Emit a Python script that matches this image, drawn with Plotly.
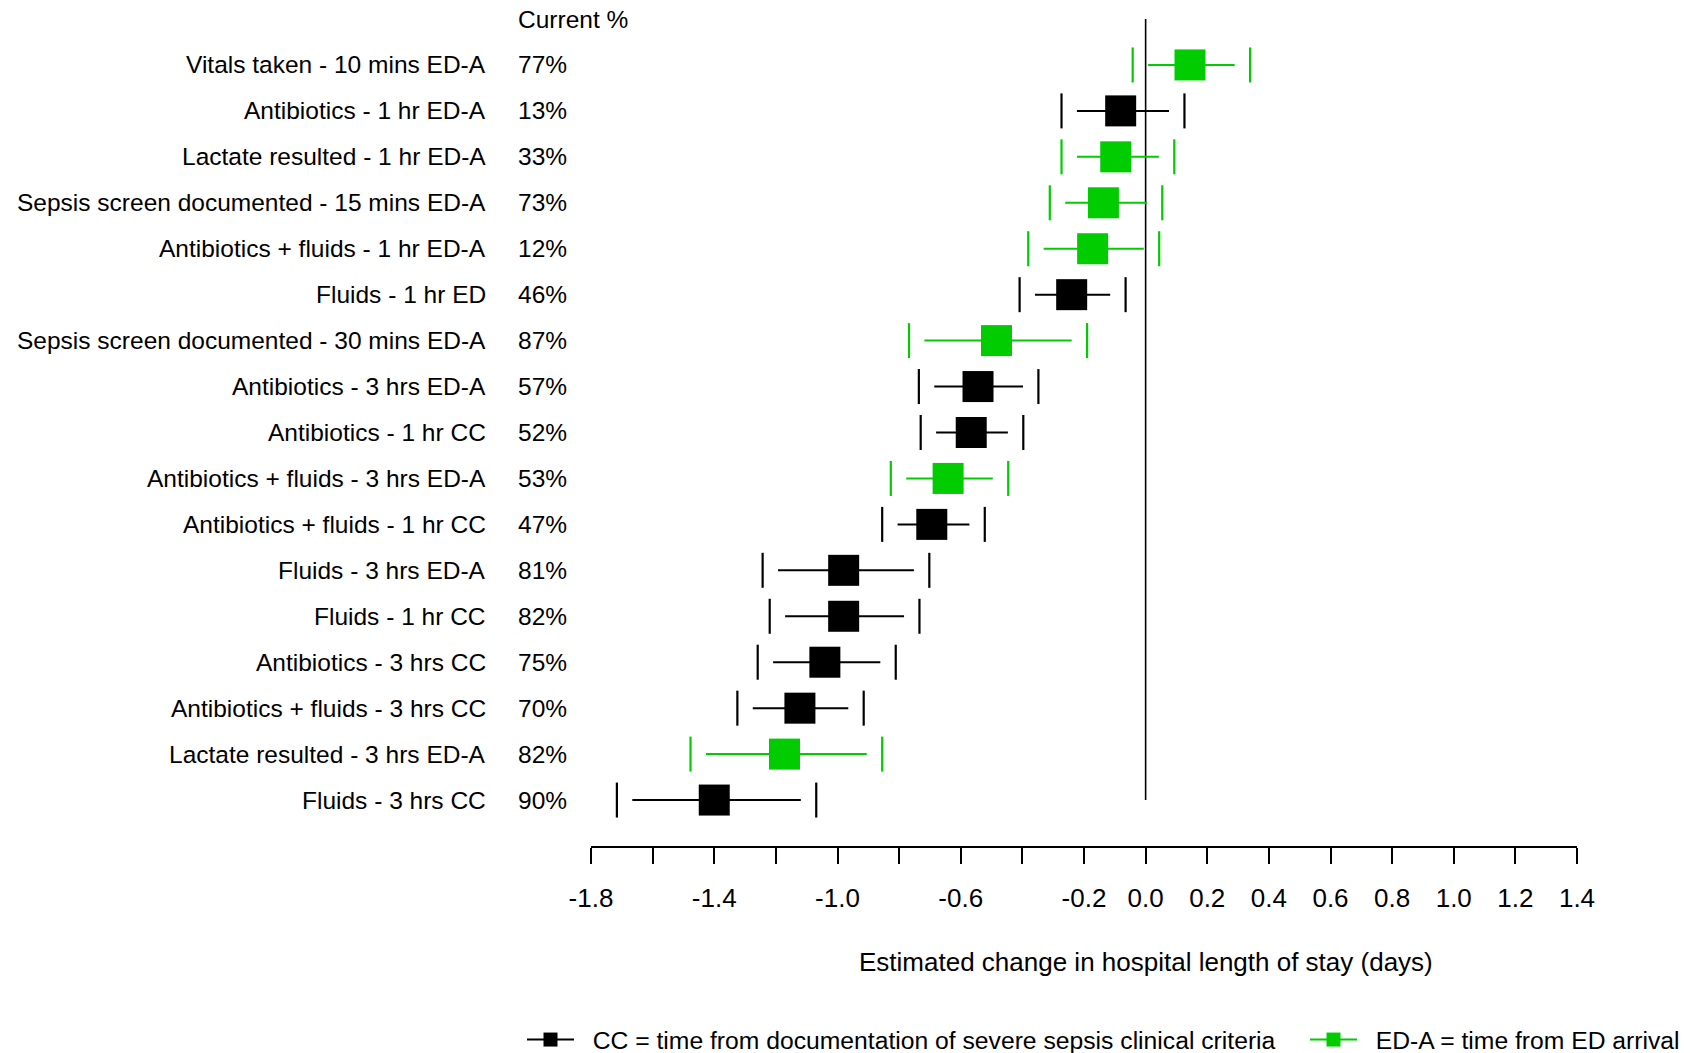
import plotly.graph_objects as go

# ---------------- data ----------------
labels = [
    "Vitals taken - 10 mins ED-A",
    "Antibiotics - 1 hr ED-A",
    "Lactate resulted - 1 hr ED-A",
    "Sepsis screen documented - 15 mins ED-A",
    "Antibiotics + fluids - 1 hr ED-A",
    "Fluids - 1 hr ED",
    "Sepsis screen documented - 30 mins ED-A",
    "Antibiotics - 3 hrs ED-A",
    "Antibiotics - 1 hr CC",
    "Antibiotics + fluids - 3 hrs ED-A",
    "Antibiotics + fluids - 1 hr CC",
    "Fluids - 3 hrs ED-A",
    "Fluids - 1 hr CC",
    "Antibiotics - 3 hrs CC",
    "Antibiotics + fluids - 3 hrs CC",
    "Lactate resulted - 3 hrs ED-A",
    "Fluids - 3 hrs CC",
]
current_pct = ["77%", "13%", "33%", "73%", "12%", "46%", "87%", "57%", "52%",
               "53%", "47%", "81%", "82%", "75%", "70%", "82%", "90%"]
estimate = [0.144, -0.081, -0.097, -0.137, -0.172, -0.240, -0.484, -0.544, -0.566,
            -0.641, -0.694, -0.980, -0.980, -1.041, -1.122, -1.172, -1.400]
ci_low = [-0.042, -0.273, -0.273, -0.311, -0.381, -0.409, -0.768, -0.736, -0.730,
          -0.827, -0.855, -1.243, -1.220, -1.259, -1.325, -1.477, -1.716]
ci_high = [0.339, 0.126, 0.093, 0.054, 0.044, -0.065, -0.190, -0.348, -0.397,
           -0.446, -0.522, -0.702, -0.734, -0.811, -0.915, -0.855, -1.069]
marker_group = ["ED-A", "CC", "ED-A", "ED-A", "ED-A", "CC", "ED-A", "CC", "CC",
                "ED-A", "CC", "CC", "CC", "CC", "CC", "ED-A", "CC"]
tick_values = [-1.8, -1.6, -1.4, -1.2, -1.0, -0.8, -0.6, -0.4, -0.2, 0.0,
               0.2, 0.4, 0.6, 0.8, 1.0, 1.2, 1.4]
tick_labels = ["-1.8", "", "-1.4", "", "-1.0", "", "-0.6", "", "-0.2", "0.0",
               "0.2", "0.4", "0.6", "0.8", "1.0", "1.2", "1.4"]
legend_names = {
    "CC": "CC = time from documentation of severe sepsis clinical criteria",
    "ED-A": "ED-A = time from ED arrival",
}
header = "Current %"
x_title = "Estimated change in hospital length of stay (days)"

# ---------------- style ----------------
COLORS = {"CC": "#000000", "ED-A": "#00CC00"}
CAP_GAP = 0.05
FONT = "Liberation Sans, Arial, sans-serif"
FS_LAB = 24.5
FS_TICK = 26
FS_TITLE = 26
FS_LEG = 24.7
LEG_PAD = "\u00a0\u00a0"

rows = list(range(1, len(labels) + 1))

fig = go.Figure()

# zero reference line (from header row to last row)
fig.add_trace(go.Scatter(x=[0, 0], y=[0, rows[-1]], mode="lines",
                         line=dict(color="black", width=1.6),
                         showlegend=False, hoverinfo="skip", cliponaxis=False))

for grp in ["CC", "ED-A"]:
    idx = [i for i, g in enumerate(marker_group) if g == grp]
    wx, wy = [], []
    for i in idx:
        wx += [ci_low[i] + CAP_GAP, ci_high[i] - CAP_GAP, None]
        wy += [rows[i], rows[i], None]
    fig.add_trace(go.Scatter(x=wx, y=wy, mode="lines",
                             line=dict(color=COLORS[grp], width=2),
                             showlegend=False, hoverinfo="skip"))
    cx = [ci_low[i] for i in idx] + [ci_high[i] for i in idx]
    cy = [rows[i] for i in idx] * 2
    fig.add_trace(go.Scatter(x=cx, y=cy, mode="markers",
                             marker=dict(symbol="line-ns", size=25,
                                         line=dict(color=COLORS[grp], width=2.2)),
                             showlegend=False, hoverinfo="skip"))
    fig.add_trace(go.Scatter(x=[estimate[i] for i in idx], y=[rows[i] for i in idx],
                             mode="markers",
                             marker=dict(symbol="square", size=31, color=COLORS[grp],
                                         line=dict(width=0)),
                             showlegend=False))

# legend proxies (one legend each for precise placement)
for grp, leg in [("CC", "legend"), ("ED-A", "legend2")]:
    fig.add_trace(go.Scatter(x=[None], y=[None], mode="lines+markers",
                             name=LEG_PAD + legend_names[grp], legend=leg,
                             line=dict(color=COLORS[grp], width=2),
                             marker=dict(symbol="square", size=14, color=COLORS[grp])))

L, R, T, B = 591, 113, 19, 207
W, H = 1690, 1053
pw = W - L - R
ph = H - T - B

def px_x(px):
    return (px - L) / pw

def px_y(py):
    return (H - B - py) / ph

annotations = []
for r, lab, pct in zip(rows, labels, current_pct):
    annotations.append(dict(x=px_x(488), xref="paper", y=r, yref="y", text=lab,
                            showarrow=False, xanchor="right", yanchor="middle",
                            font=dict(family=FONT, size=FS_LAB, color="black")))
    annotations.append(dict(x=px_x(516), xref="paper", y=r, yref="y", text=pct,
                            showarrow=False, xanchor="left", yanchor="middle",
                            font=dict(family=FONT, size=FS_LAB, color="black")))
annotations.append(dict(x=px_x(516), xref="paper", y=0, yref="y", text=header,
                        showarrow=False, xanchor="left", yanchor="middle",
                        font=dict(family=FONT, size=FS_LAB, color="black")))
annotations.append(dict(x=0, xref="x", y=px_y(962), yref="paper", text=x_title,
                        showarrow=False, xanchor="center", yanchor="middle",
                        font=dict(family=FONT, size=FS_TITLE, color="black")))

legend_common = dict(orientation="h", xanchor="left", y=px_y(1040), yanchor="middle",
                     itemwidth=47, font=dict(family=FONT, size=FS_LEG, color="black"),
                     bgcolor="rgba(0,0,0,0)")

fig.update_layout(
    width=W, height=H,
    margin=dict(l=L, r=R, t=T, b=B, autoexpand=False),
    paper_bgcolor="white", plot_bgcolor="white",
    font=dict(family=FONT, size=FS_LAB, color="black"),
    xaxis=dict(range=[-1.8, 1.4], tickmode="array", tickvals=tick_values,
               ticktext=tick_labels, showgrid=False, zeroline=False,
               showline=True, linecolor="black", linewidth=2,
               ticks="outside", ticklen=16, tickwidth=1.5, tickcolor="black",
               ticklabelstandoff=12,
               tickfont=dict(family=FONT, size=FS_TICK, color="black")),
    yaxis=dict(range=[18, 0], visible=False, showgrid=False, zeroline=False),
    showlegend=True,
    legend=dict(x=px_x(522), **legend_common),
    legend2=dict(x=px_x(1305), **legend_common),
    annotations=annotations,
)

fig.write_html("out.html", config={"displayModeBar": False},
               post_script="document.body.style.margin='0';")
